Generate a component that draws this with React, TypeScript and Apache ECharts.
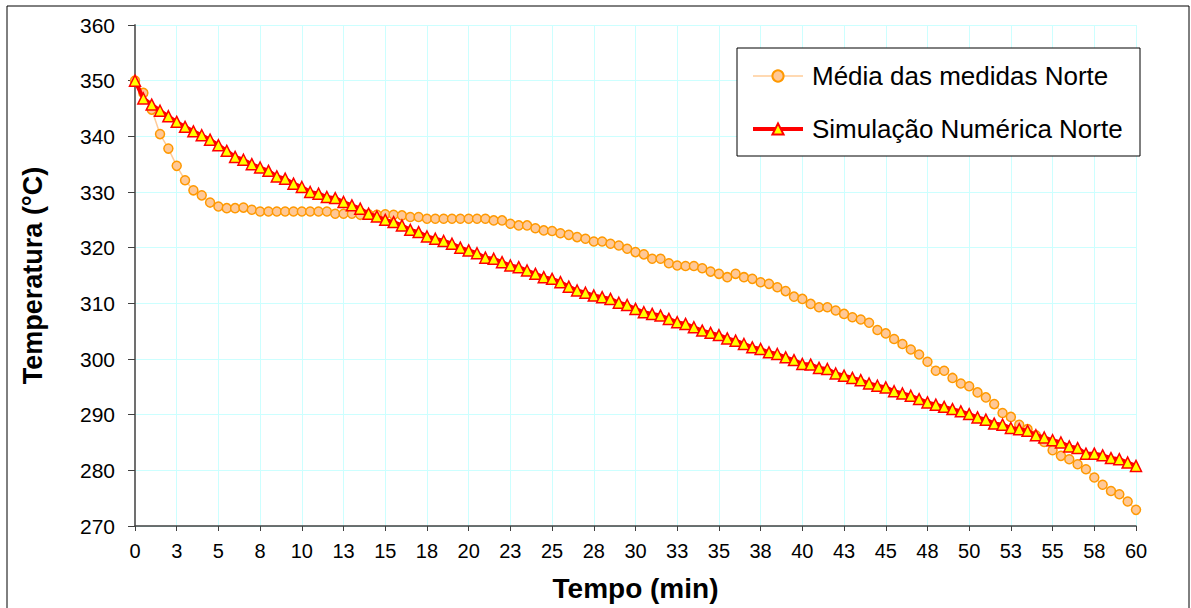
import React, { useEffect, useRef } from "react";
import * as echarts from "echarts";

const TIMES = [
  0, 0.5, 1, 1.5, 2, 2.5, 3, 3.5, 4, 4.5, 5, 5.5, 6, 6.5, 7, 7.5, 8, 8.5, 9, 9.5,
  10, 10.5, 11, 11.5, 12, 12.5, 13, 13.5, 14, 14.5, 15, 15.5, 16, 16.5, 17, 17.5, 18, 18.5, 19, 19.5,
  20, 20.5, 21, 21.5, 22, 22.5, 23, 23.5, 24, 24.5, 25, 25.5, 26, 26.5, 27, 27.5, 28, 28.5, 29, 29.5,
  30, 30.5, 31, 31.5, 32, 32.5, 33, 33.5, 34, 34.5, 35, 35.5, 36, 36.5, 37, 37.5, 38, 38.5, 39, 39.5,
  40, 40.5, 41, 41.5, 42, 42.5, 43, 43.5, 44, 44.5, 45, 45.5, 46, 46.5, 47, 47.5, 48, 48.5, 49, 49.5,
  50, 50.5, 51, 51.5, 52, 52.5, 53, 53.5, 54, 54.5, 55, 55.5, 56, 56.5, 57, 57.5, 58, 58.5, 59, 59.5,
  60,
];

const MEDIDAS_NORTE = [
  350, 347.8, 344.8, 340.4, 337.8, 334.7, 332.1, 330.3, 329.4, 328.1,
  327.4, 327.1, 327.1, 327.2, 326.8, 326.5, 326.5, 326.5, 326.5, 326.5,
  326.5, 326.5, 326.5, 326.5, 326.1, 326.1, 326.1, 325.9, 326.0, 325.9,
  326.0, 325.9, 325.8, 325.5, 325.5, 325.2, 325.2, 325.2, 325.2, 325.2,
  325.2, 325.2, 325.2, 324.9, 324.9, 324.3, 324.0, 324.0, 323.5, 323.1,
  323.0, 322.6, 322.3, 321.9, 321.6, 321.1, 321.1, 320.7, 320.4, 319.8,
  319.2, 318.8, 318.0, 318.0, 317.2, 316.8, 316.7, 316.7, 316.3, 315.7,
  315.3, 314.7, 315.3, 314.7, 314.4, 313.8, 313.5, 312.9, 312.2, 311.2,
  310.8, 309.9, 309.3, 309.3, 308.7, 308.1, 307.5, 307.1, 306.5, 305.2,
  304.6, 303.6, 302.7, 301.7, 300.8, 299.5, 297.9, 297.9, 296.6, 295.6,
  295.1, 294.0, 293.1, 291.9, 290.3, 289.6, 288.2, 287.4, 286.3, 285.1,
  283.6, 282.6, 282.0, 281.1, 280.2, 278.7, 277.4, 276.3, 275.7, 274.4,
  272.9,
];

const SIMULACAO_NORTE = [
  350, 346.8, 345.7, 344.6, 343.6, 342.6, 341.7, 340.9, 340.2, 339.4,
  338.4, 337.4, 336.3, 335.8, 335.0, 334.4, 333.8, 332.8, 332.4, 331.5,
  330.9, 330.0, 329.7, 329.1, 328.9, 328.2, 327.6, 327.0, 326.1, 325.6,
  325.0, 324.6, 324.0, 323.2, 322.8, 322.0, 321.6, 321.2, 320.7, 320.0,
  319.5, 319.0, 318.2, 318.0, 317.4, 316.8, 316.5, 315.9, 315.3, 314.7,
  314.4, 313.8, 313.0, 312.3, 311.9, 311.4, 311.1, 310.8, 310.1, 309.7,
  309.0, 308.4, 308.1, 307.8, 307.2, 306.6, 306.3, 305.7, 305.1, 304.7,
  304.3, 303.7, 303.3, 302.7, 302.1, 301.8, 301.2, 300.9, 300.3, 299.8,
  299.1, 299.0, 298.4, 298.2, 297.4, 297.0, 296.6, 296.2, 295.6, 295.2,
  294.9, 294.2, 293.8, 293.4, 292.8, 292.2, 291.8, 291.4, 291.0, 290.6,
  290.1, 289.5, 289.1, 288.4, 288.2, 287.6, 287.4, 287.1, 286.3, 285.9,
  285.4, 285.0, 284.3, 284.0, 283.0, 283.0, 282.7, 282.2, 282.0, 281.4,
  280.8,
];

const SERIES_NAMES = ["Média das medidas Norte", "Simulação Numérica Norte"];
const X_TITLE = "Tempo (min)";
const Y_TITLE = "Temperatura (°C)";

const FONT = "'Liberation Sans', Arial, sans-serif";

export default function App() {
  const ref = useRef<HTMLDivElement>(null);

  useEffect(() => {
    if (!ref.current) return;
    const chart = echarts.init(ref.current, null, { renderer: "svg" });
    const zip = (vals: number[]) => TIMES.map((t, i) => [t, vals[i]]);

    chart.setOption({
      animation: false,
      backgroundColor: "#ffffff",
      textStyle: { fontFamily: FONT },
      grid: { left: 135, top: 25, width: 1001, height: 501, containLabel: false },
      graphic: [
        {
          type: "rect",
          z: -10,
          silent: true,
          shape: { x: 7, y: 6, width: 1182, height: 700 },
          style: { fill: "none", stroke: "#000", lineWidth: 1 },
        },
        {
          type: "rect",
          z: 1,
          silent: true,
          shape: { x: 737, y: 48, width: 403, height: 108 },
          style: { fill: "#fff", stroke: "#000", lineWidth: 1 },
        },
      ],
      legend: {
        orient: "vertical",
        left: 751,
        top: 62,
        padding: 0,
        itemWidth: 50,
        itemHeight: 14,
        itemGap: 25,
        z: 5,
        lineStyle: { width: "inherit" },
        textStyle: {
          fontFamily: FONT,
          fontSize: 26,
          color: "#000",
          lineHeight: 28,
          padding: [0, 0, 0, 4],
        },
        data: SERIES_NAMES,
      },
      xAxis: {
        type: "value",
        min: 0,
        max: 60,
        interval: 2.5,
        name: X_TITLE,
        nameLocation: "middle",
        nameGap: 48,
        nameTextStyle: { fontFamily: FONT, fontSize: 28, fontWeight: "bold", color: "#000" },
        axisLine: { onZero: false, lineStyle: { color: "#404040", width: 1.5 } },
        axisTick: { show: true, length: 5, lineStyle: { color: "#404040" } },
        axisLabel: {
          fontFamily: FONT,
          fontSize: 20,
          color: "#000",
          margin: 15,
          formatter: (v: number) => String(Math.round(v)),
        },
        splitLine: { show: true, lineStyle: { color: "#ccffff", width: 1 } },
      },
      yAxis: {
        type: "value",
        min: 270,
        max: 360,
        interval: 10,
        name: Y_TITLE,
        nameLocation: "middle",
        nameGap: 89,
        nameRotate: 90,
        nameTextStyle: { fontFamily: FONT, fontSize: 27, fontWeight: "bold", color: "#000" },
        axisLine: { show: true, lineStyle: { color: "#707070", width: 2 } },
        axisTick: { show: true, length: 7, lineStyle: { color: "#404040" } },
        axisLabel: { fontFamily: FONT, fontSize: 21, color: "#000", margin: 20 },
        splitLine: { show: true, lineStyle: { color: "#ccffff", width: 1 } },
      },
      series: [
        {
          name: SERIES_NAMES[0],
          type: "line",
          data: zip(MEDIDAS_NORTE),
          symbol: "circle",
          symbolSize: 9,
          showAllSymbol: true,
          z: 2,
          lineStyle: { color: "#ffcc99", width: 1.5 },
          itemStyle: { color: "#ffc896", borderColor: "#ff9900", borderWidth: 1.5 },
        },
        {
          name: SERIES_NAMES[1],
          type: "line",
          data: zip(SIMULACAO_NORTE),
          symbol: "triangle",
          symbolSize: 11,
          showAllSymbol: true,
          z: 3,
          lineStyle: { color: "#ff0000", width: 4 },
          itemStyle: { color: "#ffff00", borderColor: "#ff0000", borderWidth: 1.5 },
        },
      ],
    });

    return () => chart.dispose();
  }, []);

  return (
    <div
      ref={ref}
      style={{ position: "absolute", left: 0, top: 0, width: 1191, height: 608 }}
    />
  );
}
